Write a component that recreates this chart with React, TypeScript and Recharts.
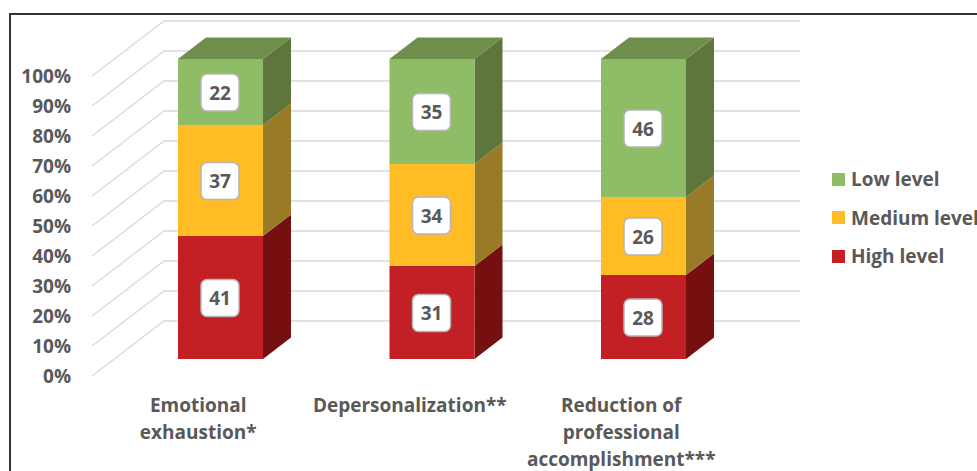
import { BarChart, Bar, XAxis, YAxis, CartesianGrid, Legend, LabelList } from "recharts";

const categories = ["Emotional\nexhaustion*", "Depersonalization**", "Reduction of\nprofessional\naccomplishment***"];
const highLevel = [41, 31, 28];
const mediumLevel = [37, 34, 26];
const lowLevel = [22, 35, 46];
const yTicks = [0, 10, 20, 30, 40, 50, 60, 70, 80, 90, 100];
const legendItems = [
  { name: "Low level", color: "#8FBC67" },
  { name: "Medium level", color: "#FFBC25" },
  { name: "High level", color: "#C32025" },
];

const data = categories.map((name, i) => ({
  name,
  high: highLevel[i],
  medium: mediumLevel[i],
  low: lowLevel[i],
}));

const FONT = "'Open Sans', sans-serif";
const TEXT = "#595959";
const GRID = "#D9D9D9";
const DX = 28;
const DY = 21.5;

// 3d box: front face comes from the scale, side/top are offset by the depth
function Box({ x, y, width, height, fill, side, top }: any) {
  return (
    <g>
      <polygon points={`${x + width},${y} ${x + width + DX},${y - DY} ${x + width + DX},${y + height - DY} ${x + width},${y + height}`} fill={side} />
      {top && <polygon points={`${x},${y} ${x + DX},${y - DY} ${x + width + DX},${y - DY} ${x + width},${y}`} fill={top} />}
      <rect x={x} y={y} width={width} height={height} fill={fill} />
    </g>
  );
}

function WallLine({ y1, index }: any) {
  return (
    <g key={index} fill="none" stroke={GRID} strokeWidth={1.3}>
      <line x1={92} y1={y1 + 17} x2={164} y2={y1 - 38} />
      <line x1={164} y1={y1 - 38} x2={800} y2={y1 - 38} />
    </g>
  );
}

function YTick({ x, y, payload }: any) {
  return (
    <text x={x - 36} y={y + 23.5} textAnchor="end" fontFamily={FONT} fontWeight={700} fontSize={19} fill={TEXT}>
      {payload.value}%
    </text>
  );
}

function XTick({ x, y, payload }: any) {
  return (
    <text textAnchor="middle" fontFamily={FONT} fontWeight={700} fontSize={19} fill={TEXT}>
      {String(payload.value).split("\n").map((line, i) => (
        <tspan key={line} x={x - 22.5} y={y + 45 + i * 27}>{line}</tspan>
      ))}
    </text>
  );
}

function ValueLabel({ x, y, width, height, value }: any) {
  const cx = x + width / 2 - 0.5;
  const cy = y + height / 2 + 0.5;
  return (
    <g>
      <rect x={cx - 19} y={cy - 18.5} width={38} height={37} rx={6} fill="#fff" stroke="#B5B5B5" strokeWidth={1.5} />
      <text x={cx} y={cy + 7} textAnchor="middle" fontFamily={FONT} fontWeight={700} fontSize={19} fill={TEXT}>
        {value}
      </text>
    </g>
  );
}

function LegendBox() {
  return (
    <div style={{ fontFamily: FONT, fontWeight: 700, fontSize: 19, color: TEXT }}>
      {legendItems.map((item) => (
        <div key={item.name} style={{ display: "flex", alignItems: "center", height: 38.5, whiteSpace: "nowrap" }}>
          <span style={{ width: 13, height: 13, flexShrink: 0, background: item.color, marginRight: 6 }} />
          {item.name}
        </div>
      ))}
    </div>
  );
}

export default function App() {
  return (
    <div style={{ position: "absolute", left: 0, top: 0, width: 977, height: 471, overflow: "hidden", background: "#fff" }}>
      <div style={{ position: "absolute", left: 9, top: 13, width: 1000, height: 500, border: "2px solid #333" }} />
      <div style={{ position: "absolute", left: 0, top: 0 }}>
        <BarChart width={977} height={471} data={data} barSize={85} margin={{ top: 59, right: 82.5, bottom: 0, left: 0 }}>
          <CartesianGrid vertical={false} horizontal={(props: any) => <WallLine {...props} />} />
          <XAxis dataKey="name" height={112} axisLine={false} tickLine={false} interval={0} tick={<XTick />} />
          <YAxis width={115} domain={[0, 100]} ticks={yTicks} axisLine={false} tickLine={false} interval={0} tick={<YTick />} />
          <Legend
            layout="vertical"
            align="right"
            verticalAlign="top"
            content={<LegendBox />}
            wrapperStyle={{ left: 832, top: 160, width: 145, right: "auto" }}
          />
          <Bar dataKey="high" stackId="a" isAnimationActive={false} shape={(p: any) => <Box {...p} fill="#C32025" side="#750F10" />}>
            <LabelList dataKey="high" content={<ValueLabel />} />
          </Bar>
          <Bar dataKey="medium" stackId="a" isAnimationActive={false} shape={(p: any) => <Box {...p} fill="#FFBC25" side="#997A26" />}>
            <LabelList dataKey="medium" content={<ValueLabel />} />
          </Bar>
          <Bar dataKey="low" stackId="a" isAnimationActive={false} shape={(p: any) => <Box {...p} fill="#8FBC67" side="#5E763C" top="#6F8E4B" />}>
            <LabelList dataKey="low" content={<ValueLabel />} />
          </Bar>
        </BarChart>
      </div>
    </div>
  );
}
